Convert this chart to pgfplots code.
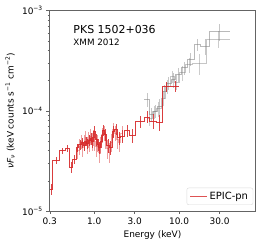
\documentclass[border=0pt]{standalone}
\usepackage{pgfplots}
\pgfplotsset{compat=1.18}
\usepackage{pgfplotstable}
\usepackage{fontspec}
\setmainfont{DejaVu Sans}
\definecolor{tabred}{RGB}{214,39,40}
\definecolor{framegray}{RGB}{100,100,100}

% EPIC-pn: lo = left bin edge, c = bin centre, y = value, e = error (last row closes the step)
\pgfplotstableread{
lo c y e
0.300 0.312 1.65e-5 0.22e-5
0.325 0.358 3.20e-5 0.25e-5
0.394 0.424 4.00e-5 0.30e-5
0.456 0.481 4.20e-5 0.35e-5
0.508 0.532 2.75e-5 0.35e-5
0.557 0.583 3.30e-5 0.35e-5
0.610 0.633 4.30e-5 0.40e-5
0.657 0.678 4.60e-5 0.50e-5
0.700 0.720 4.80e-5 0.50e-5
0.740 0.760 4.50e-5 0.50e-5
0.780 0.800 5.00e-5 0.50e-5
0.820 0.840 4.70e-5 0.50e-5
0.860 0.880 5.10e-5 0.60e-5
0.900 0.920 5.30e-5 0.70e-5
0.940 0.960 4.90e-5 0.60e-5
0.980 1.005 6.20e-5 0.90e-5
1.030 1.055 5.20e-5 0.70e-5
1.080 1.105 4.60e-5 0.60e-5
1.130 1.160 4.30e-5 0.60e-5
1.190 1.225 5.00e-5 0.70e-5
1.260 1.295 6.40e-5 0.80e-5
1.330 1.365 5.80e-5 0.80e-5
1.400 1.450 4.50e-5 0.70e-5
1.500 1.560 4.30e-5 0.70e-5
1.620 1.685 6.20e-5 0.80e-5
1.750 1.820 6.60e-5 0.80e-5
1.900 1.975 5.40e-5 0.80e-5
2.050 2.170 5.60e-5 0.80e-5
2.300 2.450 6.40e-5 0.90e-5
2.600 2.840 5.70e-5 0.90e-5
3.100 3.480 7.80e-5 1.00e-5
3.900 4.190 8.70e-5 1.20e-5
4.500 4.930 7.90e-5 1.30e-5
5.400 5.830 7.70e-5 1.40e-5
6.300 7.100 1.75e-4 2.00e-5
8.000 8.940 1.75e-4 2.20e-5
10.00 10.00 1.75e-4 0
}\pn

% finer-binned EPIC-pn (light)
\pgfplotstableread{
lo c y e
0.620 0.640 4.00e-5 0.70e-5
0.660 0.675 4.40e-5 0.80e-5
0.690 0.705 5.00e-5 0.80e-5
0.720 0.735 4.30e-5 0.80e-5
0.750 0.765 4.90e-5 0.90e-5
0.780 0.795 5.40e-5 0.90e-5
0.810 0.825 4.60e-5 0.90e-5
0.840 0.855 5.20e-5 0.90e-5
0.870 0.885 4.80e-5 0.90e-5
0.900 0.915 5.60e-5 1.00e-5
0.930 0.945 5.00e-5 1.00e-5
0.960 0.980 5.50e-5 1.00e-5
1.000 1.020 5.00e-5 1.00e-5
1.040 1.060 4.40e-5 0.90e-5
1.080 1.100 4.80e-5 0.90e-5
1.120 1.145 3.90e-5 0.90e-5
1.170 1.195 4.60e-5 0.90e-5
1.220 1.250 5.80e-5 1.00e-5
1.280 1.310 6.00e-5 1.00e-5
1.340 1.370 5.20e-5 1.00e-5
1.400 1.435 4.20e-5 0.90e-5
1.470 1.510 3.90e-5 0.90e-5
1.550 1.590 4.90e-5 1.00e-5
1.630 1.675 6.50e-5 1.00e-5
1.720 1.770 6.00e-5 1.00e-5
1.820 1.875 5.20e-5 1.00e-5
1.930 1.990 4.90e-5 1.00e-5
2.050 2.125 6.00e-5 1.00e-5
2.200 2.200 6.00e-5 0
}\pnfine

% NuSTAR-like grey spectra
\pgfplotstableread{
lo c y e
3.90 4.19 1.30e-4 0.20e-4
4.50 4.74 9.20e-5 0.15e-4
5.00 5.29 1.00e-4 0.15e-4
5.60 5.94 1.10e-4 0.20e-4
6.30 6.69 1.55e-4 0.25e-4
7.10 7.54 1.90e-4 0.30e-4
8.00 8.49 2.05e-4 0.35e-4
9.00 9.72 2.30e-4 0.35e-4
10.5 11.46 2.70e-4 0.40e-4
12.5 13.69 3.30e-4 0.50e-4
15.0 16.43 4.60e-4 0.60e-4
18.0 20.17 4.40e-4 0.80e-4
22.6 30.07 6.20e-4 1.20e-4
40.0 40.0 6.20e-4 0
}\nua

\pgfplotstableread{
lo c y e
4.20 4.49 8.50e-5 0.15e-4
4.80 5.09 9.80e-5 0.15e-4
5.40 5.74 1.05e-4 0.18e-4
6.10 6.49 1.35e-4 0.22e-4
6.90 7.34 1.75e-4 0.28e-4
7.80 8.29 2.20e-4 0.32e-4
8.80 9.38 1.95e-4 0.35e-4
10.0 10.86 2.40e-4 0.40e-4
11.8 13.08 2.90e-4 0.50e-4
14.5 17.45 3.00e-4 0.70e-4
21.0 28.98 5.20e-4 1.00e-4
40.0 40.0 5.20e-4 0
}\nub

\begin{document}
\begin{tikzpicture}[x=1bp,y=1bp]
\begin{axis}[
  scale only axis,
  width=206.4bp, height=200.3bp,
  xmode=log, ymode=log,
  xmin=0.296, xmax=80,
  ymin=1e-5, ymax=1e-3,
  axis line style={framegray, line width=0.7pt},
  tick style={framegray, line width=0.5pt},
  tick align=outside,
  xtick pos=bottom, ytick pos=left,
  major tick length=3pt, minor tick length=1.8pt,
  xtick={0.3,1,3,10,30},
  xticklabels={0.3,1.0,3.0,10.0,30.0},
  ytick={1e-5,1e-4,1e-3},
  yticklabels={10\textsuperscript{−5},10\textsuperscript{−4},10\textsuperscript{−3}},
  ticklabel style={font=\fontsize{9}{10}\selectfont},
  /pgf/number format/assume math mode=true,
  xlabel={Energy (keV)},
  xlabel style={font=\fontsize{9}{10}\selectfont, at={(axis description cs:0.5,-0.12)}, anchor=center},
  ylabel={\textit{νF}\textsubscript{\textit{ν}} (keV counts s\textsuperscript{−1} cm\textsuperscript{−2})},
  ylabel style={font=\fontsize{9}{10}\selectfont, at={(axis description cs:-0.19,0.5)}, anchor=center},
  legend style={at={(axis description cs:0.988,0.03)}, anchor=south east,
    draw=black!15, rounded corners=2pt, font=\fontsize{10}{12}\selectfont,
    inner xsep=3pt, inner ysep=2pt},
  legend image code/.code={\draw[tabred, opacity=0.8, line width=0.8pt] (0bp,0bp) -- (17bp,0bp);},
  legend cell align=left,
  clip=true,
]
% grey NuSTAR
\addplot[const plot, color=gray, opacity=0.55, line width=0.6pt, forget plot] table[x=lo,y=y]{\nua};
\addplot[draw=none, mark=none, forget plot,
  error bars/.cd, y dir=both, y explicit,
  error bar style={draw=gray, opacity=0.45, line width=0.7pt}, error mark=none]
  table[x=c,y=y,y error=e]{\nua};
\addplot[const plot, color=gray, opacity=0.45, line width=0.6pt, forget plot] table[x=lo,y=y]{\nub};
\addplot[draw=none, mark=none, forget plot,
  error bars/.cd, y dir=both, y explicit,
  error bar style={draw=gray, opacity=0.4, line width=0.7pt}, error mark=none]
  table[x=c,y=y,y error=e]{\nub};
% light red fine bins
\addplot[const plot, color=tabred, opacity=0.35, line width=0.6pt, forget plot] table[x=lo,y=y]{\pnfine};
\addplot[draw=none, mark=none, forget plot,
  error bars/.cd, y dir=both, y explicit,
  error bar style={draw=tabred, opacity=0.45, line width=0.9pt}, error mark=none]
  table[x=c,y=y,y error=e]{\pnfine};
% EPIC-pn
\addplot[const plot, color=tabred, opacity=0.9, line width=0.8pt] table[x=lo,y=y]{\pn};
\addlegendentry{EPIC-pn}
\addplot[draw=none, mark=none, forget plot,
  error bars/.cd, y dir=both, y explicit,
  error bar style={draw=tabred, opacity=0.85, line width=0.7pt}, error mark=none]
  table[x=c,y=y,y error=e]{\pn};
\node[anchor=west, font=\fontsize{11}{13}\selectfont] at (rel axis cs:0.1,0.905) {PKS 1502+036};
\node[anchor=west, font=\fontsize{8.8}{10}\selectfont] at (rel axis cs:0.1,0.843) {XMM 2012};
\end{axis}
\pgfresetboundingbox
\useasboundingbox (current axis.south west) ++(-49.3bp,-35bp) rectangle ([xshift=10.3bp,yshift=10.7bp]current axis.north east);
\end{tikzpicture}
\end{document}
